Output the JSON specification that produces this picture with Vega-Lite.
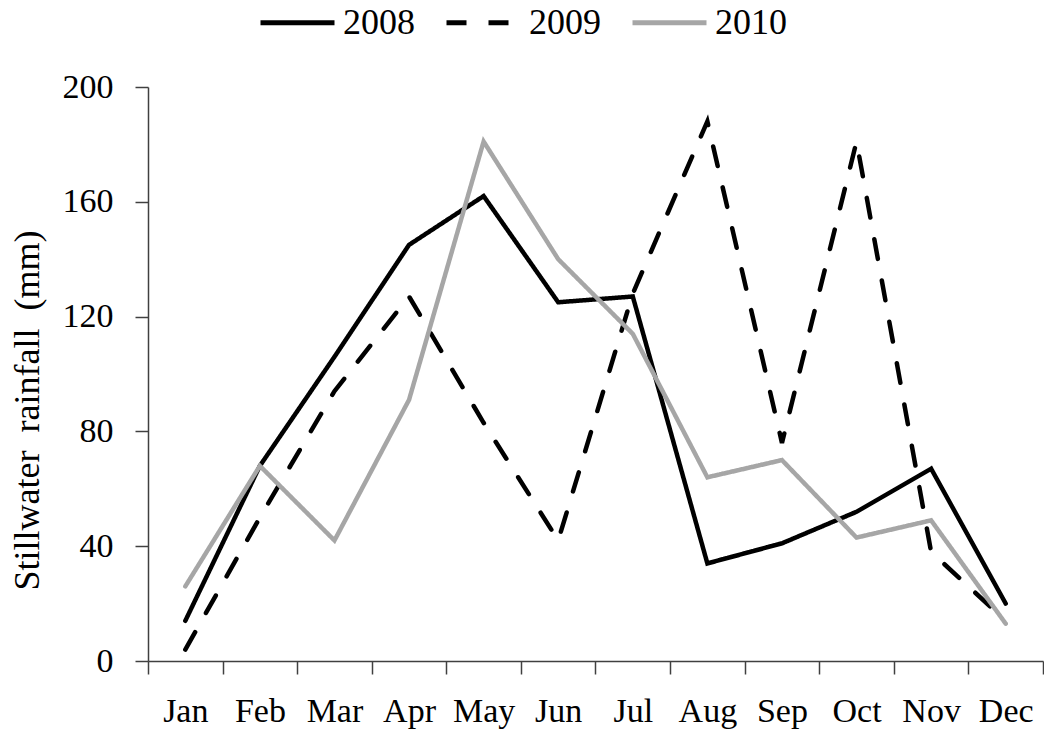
{
  "$schema": "https://vega.github.io/schema/vega-lite/v6.json",
  "width": 895,
  "height": 574,
  "autosize": {"type": "none"},
  "padding": {"left": 148, "top": 87, "right": 1, "bottom": 68},
  "background": "white",
  "config": {
    "view": {"stroke": null},
    "font": "Liberation Serif"
  },
  "data": {
    "values": [
      {"month": "Jan", "year": "2008", "rainfall": 14},
      {"month": "Feb", "year": "2008", "rainfall": 68},
      {"month": "Mar", "year": "2008", "rainfall": 106},
      {"month": "Apr", "year": "2008", "rainfall": 145},
      {"month": "May", "year": "2008", "rainfall": 162},
      {"month": "Jun", "year": "2008", "rainfall": 125},
      {"month": "Jul", "year": "2008", "rainfall": 127},
      {"month": "Aug", "year": "2008", "rainfall": 34},
      {"month": "Sep", "year": "2008", "rainfall": 41},
      {"month": "Oct", "year": "2008", "rainfall": 52},
      {"month": "Nov", "year": "2008", "rainfall": 67},
      {"month": "Dec", "year": "2008", "rainfall": 20},
      {"month": "Jan", "year": "2009", "rainfall": 4},
      {"month": "Feb", "year": "2009", "rainfall": 50},
      {"month": "Mar", "year": "2009", "rainfall": 94},
      {"month": "Apr", "year": "2009", "rainfall": 127},
      {"month": "May", "year": "2009", "rainfall": 83},
      {"month": "Jun", "year": "2009", "rainfall": 42},
      {"month": "Jul", "year": "2009", "rainfall": 128},
      {"month": "Aug", "year": "2009", "rainfall": 188},
      {"month": "Sep", "year": "2009", "rainfall": 76},
      {"month": "Oct", "year": "2009", "rainfall": 181},
      {"month": "Nov", "year": "2009", "rainfall": 38},
      {"month": "Dec", "year": "2009", "rainfall": 14},
      {"month": "Jan", "year": "2010", "rainfall": 26},
      {"month": "Feb", "year": "2010", "rainfall": 68},
      {"month": "Mar", "year": "2010", "rainfall": 42},
      {"month": "Apr", "year": "2010", "rainfall": 91},
      {"month": "May", "year": "2010", "rainfall": 181},
      {"month": "Jun", "year": "2010", "rainfall": 140},
      {"month": "Jul", "year": "2010", "rainfall": 114},
      {"month": "Aug", "year": "2010", "rainfall": 64},
      {"month": "Sep", "year": "2010", "rainfall": 70},
      {"month": "Oct", "year": "2010", "rainfall": 43},
      {"month": "Nov", "year": "2010", "rainfall": 49},
      {"month": "Dec", "year": "2010", "rainfall": 13}
    ]
  },
  "mark": {"type": "line", "strokeWidth": 4.5, "strokeCap": "round", "strokeJoin": "miter"},
  "encoding": {
    "x": {
      "field": "month",
      "type": "ordinal",
      "sort": ["Jan", "Feb", "Mar", "Apr", "May", "Jun", "Jul", "Aug", "Sep", "Oct", "Nov", "Dec"],
      "scale": {"type": "band", "paddingInner": 0, "paddingOuter": 0},
      "bandPosition": 0.5,
      "axis": {
        "title": null,
        "tickBand": "extent",
        "labelAngle": 0,
        "labelFont": "Liberation Serif",
        "labelFontSize": 34,
        "labelColor": "#000000",
        "labelBaseline": "alphabetic",
        "labelPadding": 47,
        "tickSize": 13,
        "tickColor": "#404040",
        "tickWidth": 1.5,
        "domainColor": "#404040",
        "domainWidth": 1.5,
        "grid": false
      }
    },
    "y": {
      "field": "rainfall",
      "type": "quantitative",
      "scale": {"domain": [0, 200], "nice": false},
      "axis": {
        "title": "Stillwater\u00a0 rainfall\u00a0 (mm)",
        "values": [0, 40, 80, 120, 160, 200],
        "grid": false,
        "labelFont": "Liberation Serif",
        "labelFontSize": 34,
        "labelColor": "#000000",
        "labelPadding": 22,
        "tickSize": 13,
        "tickColor": "#404040",
        "tickWidth": 1.5,
        "domainColor": "#404040",
        "domainWidth": 1.5,
        "titleFont": "Liberation Serif",
        "titleFontSize": 36,
        "titleFontWeight": "normal",
        "titleColor": "#000000",
        "titleAngle": -90,
        "titleBaseline": "alphabetic",
        "titleAlign": "center",
        "titleX": -110,
        "titleY": 323
      }
    },
    "color": {
      "field": "year",
      "type": "nominal",
      "scale": {"domain": ["2008", "2009", "2010"], "range": ["#000000", "#000000", "#a6a6a6"]},
      "legend": {
        "title": null,
        "orient": "none",
        "direction": "horizontal",
        "legendX": 110,
        "legendY": -104,
        "symbolType": "stroke",
        "symbolSize": 5476,
        "symbolStrokeWidth": 5,
        "labelFont": "Liberation Serif",
        "labelFontSize": 36,
        "labelColor": "#000000",
        "labelOffset": 6,
        "columnPadding": 21
      }
    },
    "strokeDash": {
      "field": "year",
      "type": "nominal",
      "scale": {"domain": ["2008", "2009", "2010"], "range": [[1, 0], [20, 22], [1, 0]]},
      "legend": {
        "title": null,
        "orient": "none",
        "direction": "horizontal",
        "legendX": 110,
        "legendY": -104,
        "symbolType": "stroke",
        "symbolSize": 5476,
        "symbolStrokeWidth": 5,
        "labelFont": "Liberation Serif",
        "labelFontSize": 36,
        "labelColor": "#000000",
        "labelOffset": 6,
        "columnPadding": 21
      }
    }
  }
}
